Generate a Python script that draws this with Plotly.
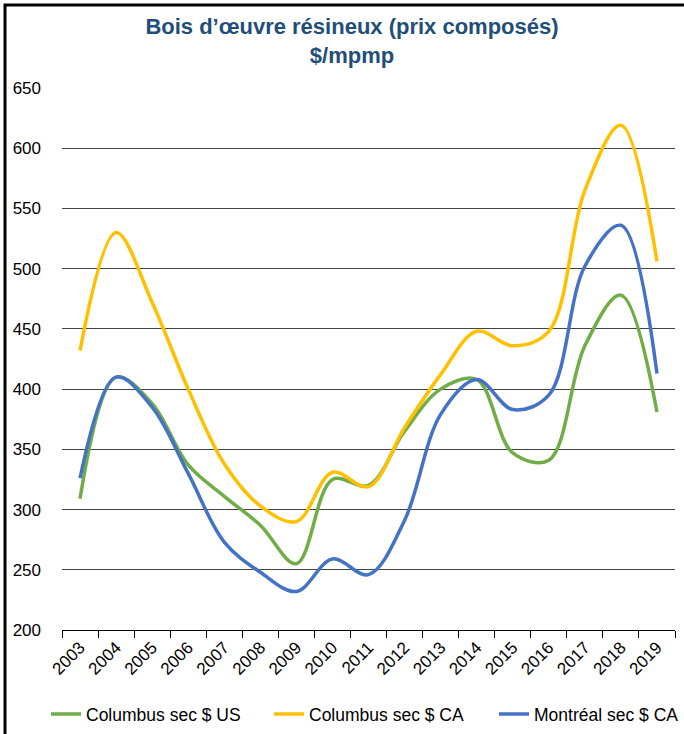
"""Bois d'œuvre résineux (prix composés) — recreated with Plotly."""

import plotly.graph_objects as go

# Data ($/mpmp).
years = [str(y) for y in range(2003, 2020)]
columbus_us = [309, 410, 388, 337, 311, 287, 255, 325, 320, 365, 400, 408, 347, 341, 436, 478, 381]
columbus_ca = [432, 530, 472, 400, 338, 303, 290, 331, 319, 368, 412, 448, 436, 448, 565, 619, 506]
montreal_ca = [326, 410, 385, 330, 273, 248, 232, 259, 246, 291, 379, 408, 383, 395, 502, 536, 413]
series_names = ["Columbus sec $ US", "Columbus sec $ CA", "Montréal sec $ CA"]

_GREEN = "#70AD47"
_YELLOW = "#FFC000"
_BLUE = "#4472C4"
_TITLE_COLOR = "#1F4E79"
_FONT = "Liberation Sans, Arial, sans-serif"

W, H = 684, 734
M_L, M_R, M_T, M_B = 62, 9, 88, 104
pw, ph = W - M_L - M_R, H - M_T - M_B

# Left pixel of each legend entry (one legend per series, so they can be
# spaced like the original).
_LEGEND_X_PX = [46, 269, 494]

fig = go.Figure()
for i, (name, vals, color) in enumerate(
    zip(series_names, [columbus_us, columbus_ca, montreal_ca], [_GREEN, _YELLOW, _BLUE])
):
    fig.add_trace(
        go.Scatter(
            x=years, y=vals, mode="lines", name=name, showlegend=True,
            line={"color": color, "width": 3.5, "shape": "spline", "smoothing": 1.0},
            legend="legend" if i == 0 else f"legend{i + 1}",
        )
    )

# Outer frame (only the top and left edges are visible in the reference).
fig.add_shape(
    type="rect", xref="paper", yref="paper",
    x0=(5 - M_L) / pw, x1=(W + 20 - M_L) / pw,
    y0=-(M_B + 20) / ph, y1=1 + (M_T - 5) / ph,
    line={"color": "black", "width": 3},
)

legend_common = {
    "orientation": "h", "xanchor": "left", "y": -0.122, "yanchor": "top",
    "font": {"size": 17.5}, "itemwidth": 30, "bgcolor": "rgba(0,0,0,0)",
}
legends = {
    ("legend" if i == 0 else f"legend{i + 1}"): {**legend_common, "x": (px - M_L) / pw}
    for i, px in enumerate(_LEGEND_X_PX)
}

fig.update_layout(
    width=W, height=H, showlegend=True,
    margin={"l": M_L, "r": M_R, "t": M_T, "b": M_B, "autoexpand": False},
    paper_bgcolor="white", plot_bgcolor="white",
    font={"family": _FONT, "size": 17, "color": "black"},
    title={
        "text": "<b>Bois d’œuvre résineux (prix composés)<br>$/mpmp</b>",
        "x": 352 / W, "xref": "container", "xanchor": "center",
        "y": 1 - 34 / H, "yanchor": "middle",
        "font": {"size": 22, "color": _TITLE_COLOR},
    },
    xaxis={
        "type": "category", "range": [-0.5, 16.5], "automargin": False,
        "tickson": "boundaries", "ticks": "outside", "ticklen": 7,
        "tickcolor": "black", "tickangle": -45,
        "showline": True, "linecolor": "black", "linewidth": 1,
        "showgrid": False, "tickfont": {"size": 17},
    },
    yaxis={
        "range": [200, 650], "dtick": 50, "automargin": False,
        "showgrid": True, "gridcolor": "#444444", "gridwidth": 1,
        "zeroline": False, "showline": False, "ticks": "",
        "ticklabelstandoff": 20,
        "tickfont": {"size": 17},
    },
    **legends,
)

# The page body has a default 8px margin; drop it so the chart fills the window.
fig.write_html(
    "out.html",
    config={"displayModeBar": False},
    post_script="document.body.style.margin='0';",
)
